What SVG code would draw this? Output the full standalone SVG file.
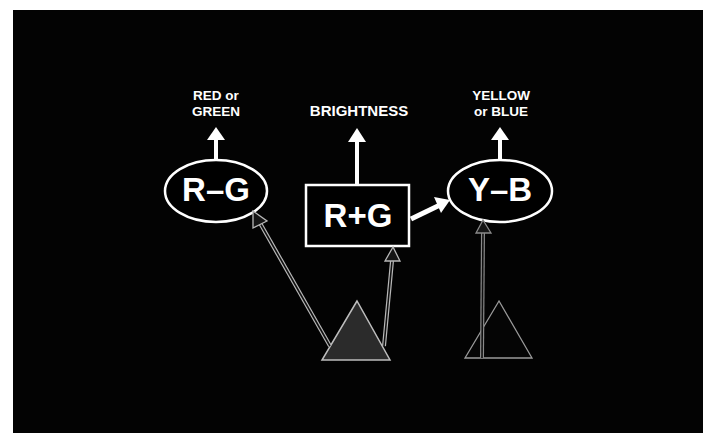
<svg xmlns="http://www.w3.org/2000/svg" width="703" height="433" viewBox="0 0 703 433">
<style>
.lbl{font-family:"Liberation Sans",Arial,sans-serif;font-weight:bold;fill:#fff;text-anchor:middle}
.small{font-size:13.5px}
.single{font-size:15px}
.big{font-size:33px}
.node{fill:#000;stroke:#fff;stroke-width:2.5}
.wshaft{stroke:#fff;stroke-width:4;fill:none}
.whead{fill:#fff}
.outer{stroke:#b8b8b8;stroke-width:4;fill:none}
.inner{stroke:#101010;stroke-width:1.6;fill:none}
.hhead{fill:#151515;stroke:#b8b8b8;stroke-width:1.3}
</style>
<rect x="0" y="0" width="703" height="433" fill="#fff"/>
<rect x="13" y="10" width="690" height="423" fill="#030303"/>

<g id="label-rg">
<text class="lbl small" x="216" y="100">RED or</text>
<text class="lbl small" x="216" y="115.5">GREEN</text>
</g>
<g id="label-brightness">
<text class="lbl single" x="359" y="116">BRIGHTNESS</text>
</g>
<g id="label-yb">
<text class="lbl small" x="501" y="100">YELLOW</text>
<text class="lbl small" x="501" y="115.5">or BLUE</text>
</g>

<g id="node-rg">
<ellipse class="node" cx="216" cy="191" rx="51" ry="31"/>
<text class="lbl big" x="216" y="201">R–G</text>
</g>
<g id="node-rpg">
<rect class="node" x="306" y="185" width="103" height="61"/>
<text class="lbl big" x="358" y="227">R+G</text>
</g>
<g id="node-yb">
<ellipse class="node" cx="500" cy="191" rx="52" ry="31"/>
<text class="lbl big" x="500" y="201">Y–B</text>
</g>

<g id="cone-1">
<polygon points="357,301 322,360 390,360" fill="#2b2b2b" stroke="#bdbdbd" stroke-width="1.5"/>
</g>
<g id="cone-2">
<polygon points="499,301 465,358 532,358" fill="#050505" stroke="#9a9a9a" stroke-width="1.3"/>
</g>

<g id="connectors">
<line class="wshaft" x1="216" y1="160" x2="216" y2="138"/>
<polygon class="whead" points="216,127 207,140 225,140"/>
<line class="wshaft" x1="357" y1="185" x2="357" y2="140"/>
<polygon class="whead" points="357,128 348,142 366,142"/>
<line class="wshaft" x1="500" y1="160" x2="500" y2="138"/>
<polygon class="whead" points="500,127 491,140 509,140"/>
<line class="wshaft" x1="411" y1="219" x2="440" y2="205" style="stroke-width:5"/>
<polygon class="whead" points="450,200 434,197 441,213"/>

<line class="outer" x1="330" y1="346" x2="260" y2="223"/>
<line class="inner" x1="330" y1="346" x2="260" y2="223"/>
<polygon class="hhead" points="253,211 267,221 253,228"/>

<line class="outer" x1="384" y1="346" x2="392" y2="261"/>
<line class="inner" x1="384" y1="346" x2="392" y2="261"/>
<polygon class="hhead" points="393,247 385,261 400,261"/>

<line class="outer" x1="482" y1="358" x2="483" y2="232" style="stroke:#8a8a8a"/>
<line class="inner" x1="482" y1="358" x2="483" y2="232"/>
<polygon class="hhead" points="483,220 476,233 491,233" style="stroke:#8a8a8a"/>
</g>
</svg>
